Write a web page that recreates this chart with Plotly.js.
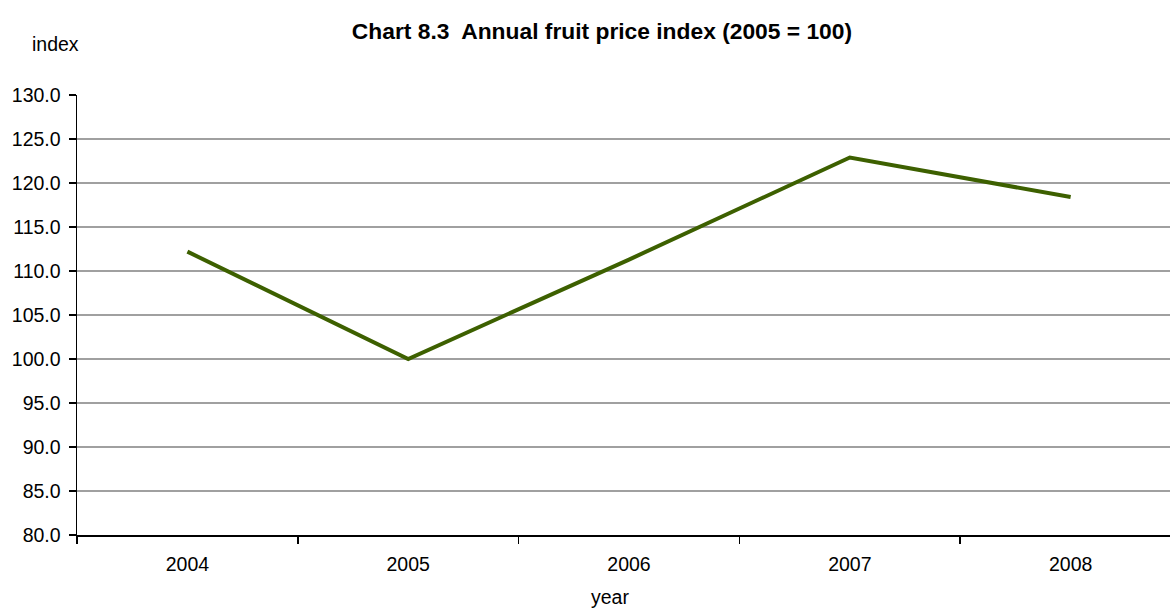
<!DOCTYPE html>
<html><head><meta charset="utf-8">
<script src="https://cdn.plot.ly/plotly-3.0.1.min.js"></script>
<style>html,body{margin:0;padding:0;background:#fff}#c{width:1170px;height:610px}</style>
</head><body><div id="c"></div>
<script>
const years = ['2004','2005','2006','2007','2008'];
const priceIndex = [112.2, 100.0, 111.3, 122.9, 118.4];
const yTicks = [80,85,90,95,100,105,110,115,120,125,130];

const trace = {
  x: years, y: priceIndex, type: 'scatter', mode: 'lines',
  line: {color: '#3D6000', width: 4}, hoverinfo: 'x+y'
};
const layout = {
  width: 1170, height: 610,
  margin: {l: 77, r: 0, t: 95, b: 75},
  paper_bgcolor: '#fff', plot_bgcolor: '#fff',
  font: {family: 'Liberation Sans, Arial, sans-serif', size: 19.5, color: '#000'},
  showlegend: false,
  title: {text: '<b>Chart 8.3  Annual fruit price index (2005 = 100)</b>', xref: 'container', x: 0.5145, xanchor: 'center', yref: 'container', y: 0.949, yanchor: 'middle', font: {size: 22.8, color: '#000'}},
  xaxis: {
    type: 'category', range: [-0.5, 4.45], tickson: 'boundaries',
    ticks: 'outside', ticklen: 7, tickwidth: 1.5, tickcolor: '#000',
    showline: true, linecolor: '#000', linewidth: 1.5, showgrid: false, zeroline: false,
    ticklabelstandoff: 11
  },
  yaxis: {
    range: [80, 130], tickvals: yTicks, tickformat: '.1f',
    ticks: 'outside', ticklen: 7, tickwidth: 1.5, tickcolor: '#000',
    showline: true, linecolor: '#000', linewidth: 1.5, ticklabelstandoff: 4,
    showgrid: true, gridcolor: '#a0a0a0', gridwidth: 1.5, zeroline: false
  },
  annotations: [
    {text: 'index', xref: 'paper', yref: 'paper', x: -0.0201, y: 1.116, xanchor: 'center', yanchor: 'middle', showarrow: false, font: {size: 19.5}},
    {text: 'year', xref: 'paper', yref: 'paper', x: 0.4876, y: -0.141, xanchor: 'center', yanchor: 'middle', showarrow: false, font: {size: 19.5}}
  ]
};
Plotly.newPlot('c', [trace], layout, {displayModeBar: false, staticPlot: true});
</script></body></html>
